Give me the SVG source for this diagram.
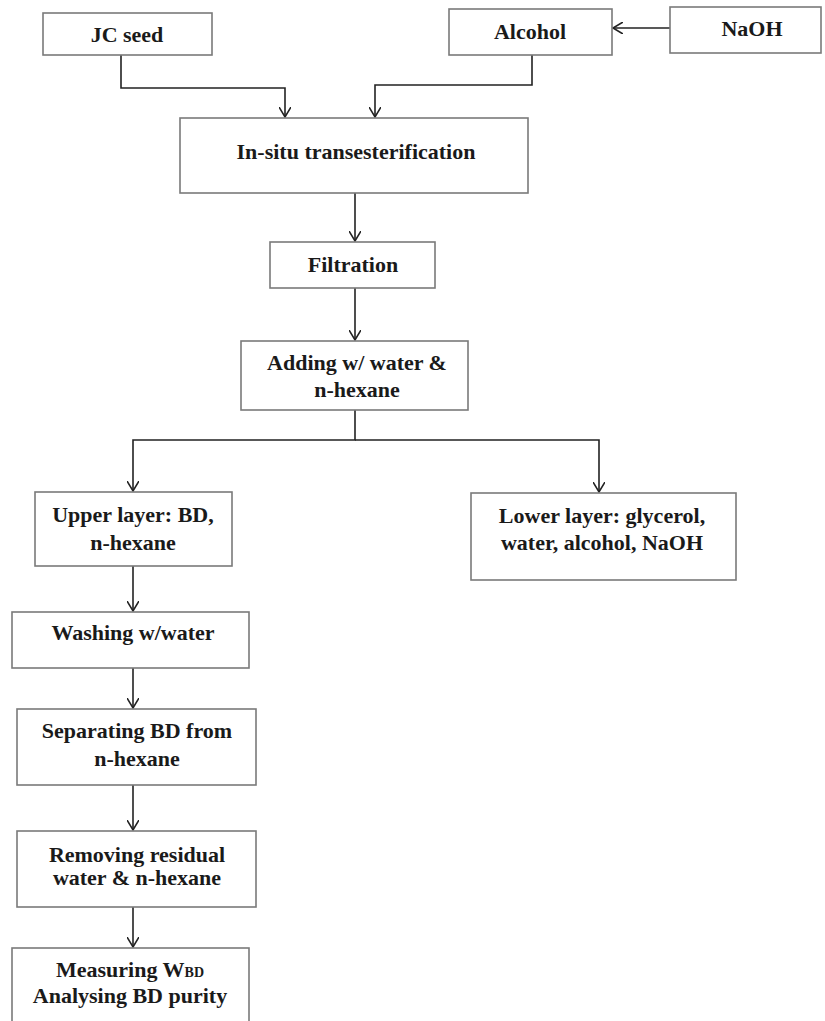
<svg xmlns="http://www.w3.org/2000/svg" width="825" height="1021" viewBox="0 0 825 1021">
<style>
.box{fill:#fff;stroke:#7a7a7a;stroke-width:1.6}
.t{font-family:"Liberation Serif","Times New Roman",serif;font-weight:bold;font-size:22px;fill:#1a1a1a;text-anchor:middle}
.c{fill:none;stroke:#222;stroke-width:1.6}
</style>
<defs>
<marker id="arr" markerWidth="12" markerHeight="12" refX="10" refY="6" orient="auto" markerUnits="userSpaceOnUse">
<polyline points="0,0 10,6 0,12" fill="none" stroke="#222" stroke-width="1.6"/>
</marker>
</defs>
<rect width="825" height="1021" fill="#fff"/>
<g id="connectors">
<polyline class="c" points="121,55 121,88 285,88 285,117" marker-end="url(#arr)"/>
<polyline class="c" points="532,55 532,85 375,85 375,117" marker-end="url(#arr)"/>
<line class="c" x1="670" y1="28" x2="613" y2="28" marker-end="url(#arr)"/>
<line class="c" x1="355" y1="193" x2="355" y2="241" marker-end="url(#arr)"/>
<line class="c" x1="355" y1="288" x2="355" y2="340" marker-end="url(#arr)"/>
<polyline class="c" points="355,410 355,440 133,440 133,491" marker-end="url(#arr)"/>
<polyline class="c" points="355,440 599,440 599,492" marker-end="url(#arr)"/>
<line class="c" x1="133" y1="566" x2="133" y2="611" marker-end="url(#arr)"/>
<line class="c" x1="133" y1="668" x2="133" y2="708" marker-end="url(#arr)"/>
<line class="c" x1="133" y1="785" x2="133" y2="830" marker-end="url(#arr)"/>
<line class="c" x1="133" y1="907" x2="133" y2="947" marker-end="url(#arr)"/>
</g>
<g id="jc-seed"><rect class="box" x="43" y="13" width="169" height="42"/><text class="t" x="127" y="42">JC seed</text></g>
<g id="alcohol"><rect class="box" x="449" y="9" width="163" height="46"/><text class="t" x="530" y="39">Alcohol</text></g>
<g id="naoh"><rect class="box" x="670" y="7" width="151" height="46"/><text class="t" x="752" y="36">NaOH</text></g>
<g id="insitu"><rect class="box" x="180" y="118" width="348" height="75"/><text class="t" x="356" y="159">In-situ transesterification</text></g>
<g id="filtration"><rect class="box" x="270" y="242" width="165" height="46"/><text class="t" x="353" y="272">Filtration</text></g>
<g id="adding"><rect class="box" x="241" y="341" width="227" height="69"/><text class="t" x="357" y="370">Adding w/ water &amp;</text><text class="t" x="357" y="397">n-hexane</text></g>
<g id="upper"><rect class="box" x="35" y="492" width="197" height="74"/><text class="t" x="133" y="522">Upper layer: BD,</text><text class="t" x="133" y="550">n-hexane</text></g>
<g id="lower"><rect class="box" x="471" y="493" width="265" height="87"/><text class="t" x="602" y="523">Lower layer: glycerol,</text><text class="t" x="602" y="550">water, alcohol, NaOH</text></g>
<g id="washing"><rect class="box" x="12" y="612" width="237" height="56"/><text class="t" x="133" y="640">Washing w/water</text></g>
<g id="separating"><rect class="box" x="17" y="709" width="239" height="76"/><text class="t" x="137" y="738">Separating BD from</text><text class="t" x="137" y="766">n-hexane</text></g>
<g id="removing"><rect class="box" x="17" y="831" width="239" height="76"/><text class="t" x="137" y="862">Removing residual</text><text class="t" x="137" y="885">water &amp; n-hexane</text></g>
<g id="measuring"><rect class="box" x="12" y="948" width="237" height="90"/><text class="t" x="130" y="977">Measuring W<tspan font-size="14">BD</tspan></text><text class="t" x="130" y="1003">Analysing BD purity</text></g>
</svg>
